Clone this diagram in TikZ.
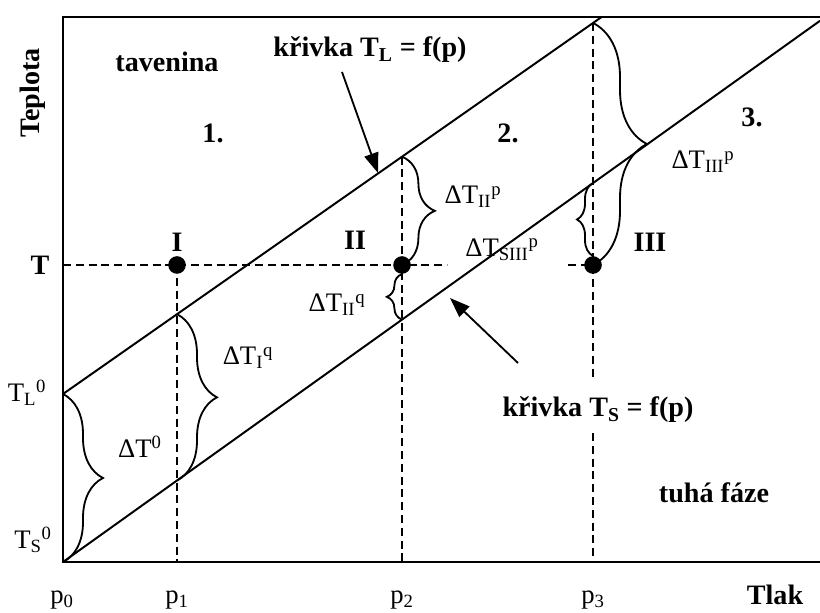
\documentclass[tikz,border=0pt]{standalone}
\usepackage{fontspec}
\setmainfont{Liberation Serif}
\usetikzlibrary{arrows.meta,decorations.pathreplacing}

\begin{document}
\begin{tikzpicture}[x=1cm,y=1cm,>={Triangle[length=0.5cm,width=0.36cm]},
  bold/.style={font=\fontsize{20}{24}\selectfont\bfseries},
  lbl/.style={font=\fontsize{19}{23}\selectfont},
  guide/.style={line width=1.3pt,dash pattern=on 0.2cm off 0.12cm},
  curve/.style={line width=1.4pt},
  brc/.style={line width=1.3pt,decorate,decoration={brace,amplitude=#1}},
  dot/.style={circle,fill,inner sep=0pt,minimum size=0.44cm}]
  \useasboundingbox (0,0) rectangle (20.5,15.3);

  % frame of the diagram
  \coordinate (O) at (1.575,1.25);
  \coordinate (TL) at (1.575,14.875);
  \coordinate (TR) at (20.5,14.875);
  \coordinate (BR) at (20.5,1.25);
  \draw[line width=1.8pt] (TR) -- (TL) -- (O) -- (BR);

  % liquidus and solidus
  \coordinate (L0) at (1.575,5.45);
  \coordinate (Lend) at (15.04,14.875);
  \coordinate (Send) at (20.5,14.78);
  \draw[curve] (L0) -- (Lend);
  \draw[curve] (O) -- (Send);

  % points on the curves at p1, p2, p3
  \coordinate (L1) at (4.425,7.445);
  \coordinate (S1) at (4.425,3.288);
  \coordinate (L2) at (10.05,11.383);
  \coordinate (S2) at (10.05,7.31);
  \coordinate (L3) at (14.825,14.725);
  \coordinate (S3) at (14.825,10.724);
  \coordinate (B1) at (4.425,1.25);
  \coordinate (B2) at (10.05,1.25);
  \coordinate (B3) at (14.825,1.25);

  % level T
  \coordinate (Ty) at (1.575,8.675);
  \coordinate (Te) at (11.175,8.675);
  \coordinate (Tf) at (14.2,8.675);
  \draw[guide] (Ty) -- (Te);
  \draw[guide] (Tf) -- (14.825,8.675);

  % vertical guides
  \coordinate (G3a) at (14.825,5.8);
  \coordinate (G3b) at (14.825,4.475);
  \draw[guide] (4.425,8.675) -- (B1);
  \draw[guide] (L2) -- (B2);
  \draw[guide] (L3) -- (G3a);
  \draw[guide] (G3b) -- (B3);

  \node[dot] (P1) at (4.425,8.675) {};
  \node[dot] (P2) at (10.05,8.675) {};
  \node[dot] (P3) at (14.825,8.675) {};

  % braces
  \draw[brc=1cm] (L0) -- (O);
  \draw[brc=1cm] (L1) -- (S1);
  \draw[brc=0.82cm] (L2) -- (P2.center);
  \draw[brc=0.38cm] (S2) -- (P2.south);
  \draw[brc=1.35cm] (L3) -- (P3.center);
  \draw[brc=0.4cm] (P3.north) -- (S3);

  % texts
  \node[bold,rotate=90] (ylab) at (0.825,12.975) {Teplota};
  \node[bold] (xlab) at (19.375,0.425) {Tlak};
  \node[bold] (tav) at (4.175,13.75) {tavenina};
  \node[bold] (tuh) at (17.85,2.975) {tuhá fáze};
  \node[bold] (r1) at (5.325,11.975) {1.};
  \node[bold] (r2) at (12.7,11.975) {2.};
  \node[bold] (r3) at (18.8,12.375) {3.};
  \node[bold] (n1) at (4.425,9.25) {I};
  \node[bold] (n2) at (8.875,9.3) {II};
  \node[bold] (n3) at (16.25,9.25) {III};
  \node[bold] (tT) at (1.0,8.675) {T};

  \node[lbl] (tL0) at (0.675,5.475) {T\textsubscript{L}\textsuperscript{0}};
  \node[lbl] (tS0) at (0.825,1.8) {T\textsubscript{S}\textsuperscript{0}};
  \node[lbl] (d0) at (3.5,4.125) {ΔT\textsuperscript{0}};
  \node[lbl] (dIq) at (6.2,6.35) {ΔT\textsubscript{I}\textsuperscript{q}};
  \node[lbl] (dIIq) at (8.425,7.675) {ΔT\textsubscript{II}\textsuperscript{q}};
  \node[lbl] (dIIp) at (11.825,10.375) {ΔT\textsubscript{II}\textsuperscript{p}};
  \node[lbl] (dIIIp) at (17.575,11.25) {ΔT\textsubscript{III}\textsuperscript{p}};
  \node[lbl] (dSIIIp) at (12.55,9.05) {ΔT\textsubscript{SIII}\textsuperscript{p}};

  \node[lbl] (p0) at (1.55,0.3) {p\textsubscript{0}};
  \node[lbl] (p1) at (4.425,0.3) {p\textsubscript{1}};
  \node[lbl] (p2) at (10.05,0.3) {p\textsubscript{2}};
  \node[lbl] (p3) at (14.825,0.3) {p\textsubscript{3}};

  % curve names with pointers
  \node[bold] (kL) at (9.25,14.05) {křivka T\textsubscript{L} = f(p)};
  \coordinate (kLfoot) at (8.55,13.5);
  \coordinate (kLtip) at (9.45,10.975);
  \draw[->,line width=1.3pt] (kLfoot) -- (kLtip);

  \node[bold] (kS) at (14.95,5.05) {křivka T\textsubscript{S} = f(p)};
  \coordinate (kSfoot) at (12.95,6.225);
  \coordinate (kStip) at (11.25,7.85);
  \draw[->,line width=1.3pt] (kSfoot) -- (kStip);
\end{tikzpicture}
\end{document}
